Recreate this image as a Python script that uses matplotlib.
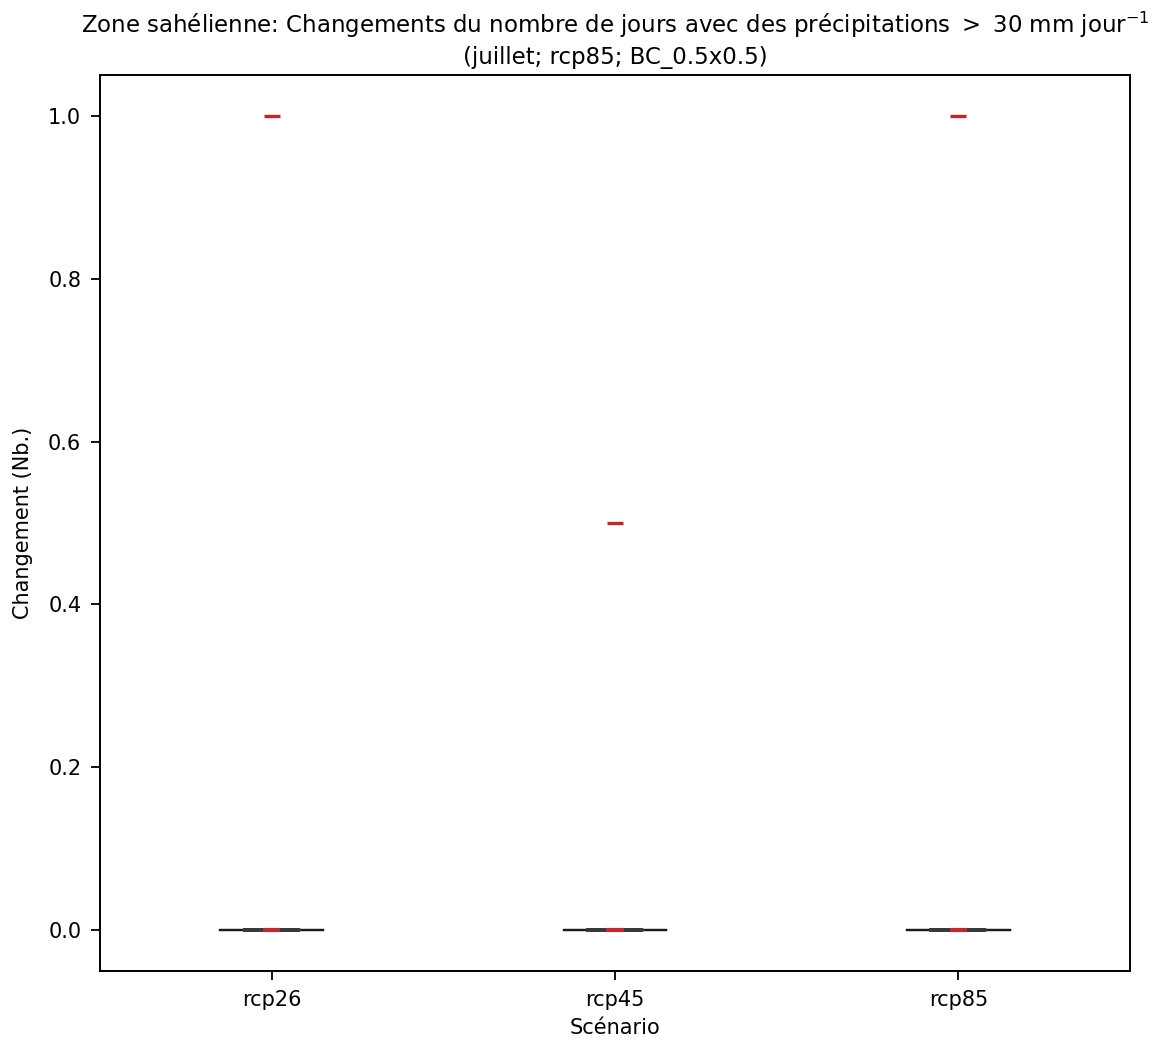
import matplotlib
matplotlib.use("Agg")
import matplotlib.pyplot as plt
import numpy as np

scenarios = ["rcp26", "rcp45", "rcp85"]
rcp26 = [0, 0, 0, 0, 0, 0, 0, 0, 0, 0, 0, 0, 0, 0, 0, 0, 0, 0, 0, 1.0]
rcp45 = [0, 0, 0, 0, 0, 0, 0, 0, 0, 0, 0, 0, 0, 0, 0, 0, 0, 0, 0, 0.5]
rcp85 = [0, 0, 0, 0, 0, 0, 0, 0, 0, 0, 0, 0, 0, 0, 0, 0, 0, 0, 0, 1.0]
series = [rcp26, rcp45, rcp85]

title = ("Zone sahélienne: Changements du nombre de jours avec des précipitations $>$ 30 mm jour$^{-1}$\n"
         "(juillet; rcp85; BC_0.5x0.5)")

red = "#c0282d"
fs = 15
fig = plt.figure(figsize=(11.59, 10.43), dpi=100)
ax = fig.add_axes([100/1159, 1-971/1043, 1030/1159, 896/1043])

positions = np.arange(len(scenarios))
bp = ax.boxplot(series, positions=positions, widths=0.157, capwidths=0.30,
                patch_artist=False,
                boxprops=dict(color="#3a3a3a", linewidth=2.6),
                whiskerprops=dict(color="#1a1a1a", linewidth=1.6),
                capprops=dict(color="#1a1a1a", linewidth=1.6),
                medianprops=dict(color=red, linewidth=3),
                flierprops=dict(marker="_", markeredgecolor=red, markersize=12,
                                markeredgewidth=2.4))
for med, p in zip(bp["medians"], positions):
    med.set_xdata([p - 0.025, p + 0.025])
    med.set_zorder(5)
for b in bp["boxes"]:
    b.set_zorder(3)

ax.set_xlim(-0.5, 2.5)
ax.set_ylim(-0.05, 1.05)
ax.set_xticks(positions)
ax.set_xticklabels(scenarios)
ax.tick_params(axis="both", labelsize=fs, length=6.5, width=1.3, pad=7)
for s in ax.spines.values():
    s.set_linewidth(1.4)
ax.set_xlabel("Scénario", fontsize=fs, labelpad=6)
ax.set_ylabel("Changement (Nb.)", fontsize=fs, labelpad=11)
ax.set_title(title, fontsize=16.5, pad=8, linespacing=1.3)

fig.savefig("out.png", dpi=100)
